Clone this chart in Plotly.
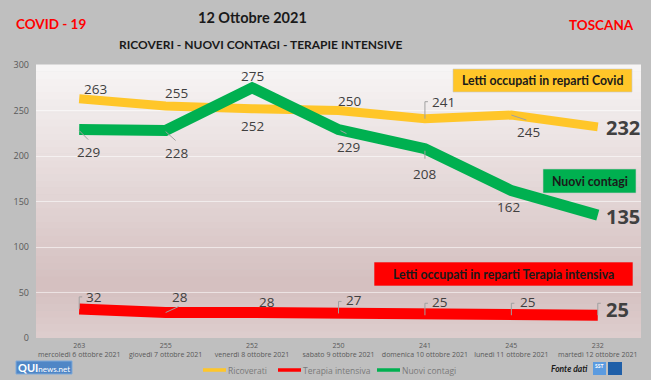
import plotly.graph_objects as go

dates = ["mercoledì 6 ottobre 2021", "giovedì 7 ottobre 2021", "venerdì 8 ottobre 2021",
         "sabato 9 ottobre 2021", "domenica 10 ottobre 2021", "lunedì 11 ottobre 2021",
         "martedì 12 ottobre 2021"]
ricoverati = [263, 255, 252, 250, 241, 245, 232]
nuovi_contagi = [229, 228, 275, 229, 208, 162, 135]
terapia_intensiva = [32, 28, 28, 27, 25, 25, 25]
series_names = ["Ricoverati", "Terapia intensiva", "Nuovi contagi"]

YELLOW = "#FFC629"
GREEN = "#00B050"
RED = "#FF0000"
LABEL = "#404040"
LEADER = "#a0a0a0"

L, R, T, B = 36, 641, 65, 338
PW, PH = R - L, B - T

def px(xp):
    return (xp - L) / PW

def py(yp):
    return (B - yp) / PH

x = list(range(len(dates)))
ticktext = [f"{r}<br>{d}" for r, d in zip(ricoverati, dates)]

fig = go.Figure()
fig.add_trace(go.Scatter(x=x, y=ricoverati, name=series_names[0], mode="lines",
                         line=dict(color=YELLOW, width=9)))
fig.add_trace(go.Scatter(x=x, y=terapia_intensiva, name=series_names[1], mode="lines",
                         line=dict(color=RED, width=11)))
fig.add_trace(go.Scatter(x=x, y=nuovi_contagi, name=series_names[2], mode="lines",
                         line=dict(color=GREEN, width=11)))

# gradient plot background
bands = 40
top = (248, 246, 246)
mid = (213, 192, 192)
bot = (222, 206, 206)
shapes = []
for i in range(bands):
    f0 = i / bands
    f1 = (i + 1) / bands
    fm = (f0 + f1) / 2  # from bottom
    if fm < 0.2:
        t = fm / 0.2
        c = [bot[k] + (mid[k] - bot[k]) * t for k in range(3)]
    else:
        t = (fm - 0.2) / 0.8
        c = [mid[k] + (top[k] - mid[k]) * t for k in range(3)]
    shapes.append(dict(type="rect", xref="paper", yref="paper", x0=0, x1=1, y0=f0, y1=f1 + 0.002,
                       fillcolor="rgb(%d,%d,%d)" % tuple(int(v) for v in c), line=dict(width=0),
                       layer="below"))

annotations = []

def add_labels(values, offsets, last_off, last_size):
    for i, v in enumerate(values):
        last = i == len(values) - 1
        dx, dy = last_off if last else offsets[i]
        annotations.append(dict(x=i, y=v, xref="x", yref="y", text=f"<b>{v}</b>" if last else str(v),
                                showarrow=False, xshift=dx, yshift=-dy,
                                xanchor="center", yanchor="middle",
                                font=dict(size=last_size if last else 13.5, color=LABEL,
                                          family="Open Sans")))

add_labels(ricoverati, [(16, -10), (11, -13), (0, 17), (11, -10), (19, -17), (17, 17)], (25, 1), 20)
add_labels(nuovi_contagi, [(9, 22), (11, 22), (0, -12), (10, 17), (0, 25), (-3, 16)], (25, 1), 20)
add_labels(terapia_intensiva, [(14, -12), (14, -16), (15, -11), (15, -13), (15, -13), (16, -13)], (20, -6), 20)

# label leader lines (pixel offsets from the data point, screen y downward)
def leader(values, i, pts):
    for (ax, ay), (bx, by) in zip(pts[:-1], pts[1:]):
        shapes.append(dict(type="line", xref="x", yref="y", xsizemode="pixel", ysizemode="pixel",
                           xanchor=i, yanchor=values[i], x0=ax, x1=bx, y0=-ay, y1=-by,
                           line=dict(color=LEADER, width=1), layer="above"))

leader(ricoverati, 4, [(0, 0), (0, -17), (3, -17)])
leader(ricoverati, 5, [(0, 0), (15, 5)])
leader(nuovi_contagi, 0, [(0, 1), (9, 10)])
leader(nuovi_contagi, 1, [(0, 1), (10, 10)])
leader(nuovi_contagi, 3, [(2, 1), (8, 4)])
leader(nuovi_contagi, 4, [(0, 2), (0, 10)])
leader(terapia_intensiva, 0, [(0, 0), (0, -12), (3, -12)])
leader(terapia_intensiva, 1, [(0, 0), (13, -6)])
for k in (3, 4, 5, 6):
    leader(terapia_intensiva, k, [(0, 0), (0, -12), (3, -12)])

def box(x0, y0, x1, y1, text, color):
    shapes.append(dict(type="rect", xref="paper", yref="paper",
                       x0=px(x0), x1=px(x1), y0=py(y1), y1=py(y0),
                       fillcolor=color, line=dict(color="rgba(200,200,200,0.6)", width=1), layer="above"))
    annotations.append(dict(x=px((x0 + x1) / 2), y=py((y0 + y1) / 2),
                            xref="paper", yref="paper", text=f"<b>{text}</b>", showarrow=False,
                            xanchor="center", yanchor="middle",
                            font=dict(size=12.3, color="#1a1a1a", family="Lato")))

box(453, 69, 632, 92, "Letti occupati in reparti Covid", YELLOW)
box(543, 169, 636, 193, "Nuovi contagi", GREEN)
box(374, 262, 633, 286, "Letti occupati in reparti Terapia intensiva", RED)

def ctext(xp, yp, text, size, color, family="Lato", anchor="center"):
    annotations.append(dict(x=px(xp), y=py(yp), xref="paper", yref="paper",
                            text=text, showarrow=False, xanchor=anchor, yanchor="middle",
                            font=dict(size=size, color=color, family=family)))

ctext(252, 18, "<b>12 Ottobre 2021</b>", 14.5, "#1a1a1a")
ctext(261, 44, "<b>RICOVERI - NUOVI CONTAGI - TERAPIE INTENSIVE</b>", 12, "#1a1a1a")
ctext(51, 24, "<b>COVID - 19</b>", 13.5, "#FF0000")
ctext(601, 25, "<b>TOSCANA</b>", 13.5, "#FF0000")
ctext(590, 369, "<b><i>Fonte dati</i></b>", 8.5, "#1a1a1a", anchor="right")

# custom legend (line swatch + text)
for (lx, color), name in zip([(203, YELLOW), (278, RED), (377, GREEN)], series_names):
    shapes.append(dict(type="line", xref="paper", yref="paper", x0=px(lx), x1=px(lx + 23),
                       y0=py(370), y1=py(370), line=dict(color=color, width=3.5), layer="above"))
    ctext(lx + 23, 370, name, 8.5, "#7a7a7a", family="Open Sans", anchor="left")

# logos (approximate)
shapes.append(dict(type="rect", xref="paper", yref="paper", x0=px(16), x1=px(72),
                   y0=py(374), y1=py(361), fillcolor="#4f86c6",
                   line=dict(color="#7fa9d9", width=1), layer="above"))
ctext(44, 367.5, "<b>QUI</b><span style='font-size:8px'>news.net</span>", 11, "white")
shapes.append(dict(type="rect", xref="paper", yref="paper", x0=px(593), x1=px(606),
                   y0=py(375), y1=py(362), fillcolor="#5b9be0", line=dict(width=0), layer="above"))
shapes.append(dict(type="rect", xref="paper", yref="paper", x0=px(608), x1=px(622),
                   y0=py(375), y1=py(362), fillcolor="#1f5fa8", line=dict(width=0), layer="above"))
ctext(599.5, 366, "<b>SST</b>", 5, "white")

fig.update_layout(
    width=651, height=380,
    margin=dict(l=L, r=651 - R, t=T, b=380 - B, autoexpand=False),
    paper_bgcolor="#BFBFBF",
    plot_bgcolor="rgba(0,0,0,0)",
    font=dict(family="Open Sans", color="#595959"),
    showlegend=False,
    xaxis=dict(tickmode="array", tickvals=x, ticktext=ticktext, range=[-0.5, 6.5],
               showgrid=False, zeroline=False, showline=False, ticks="", automargin=False,
               tickfont=dict(size=7, color="#595959"), ticklabelstandoff=2),
    yaxis=dict(range=[0, 300], dtick=50, showgrid=True, gridcolor="rgba(255,255,255,0.55)",
               gridwidth=1, zeroline=False, showline=False, ticks="", automargin=False,
               tickfont=dict(size=9, color="#595959"), ticklabelstandoff=6),
    shapes=shapes,
    annotations=annotations,
)

fig.write_html("out.html", config={"displayModeBar": False},
               post_script="document.body.style.margin='0';document.body.style.overflow='hidden';")
